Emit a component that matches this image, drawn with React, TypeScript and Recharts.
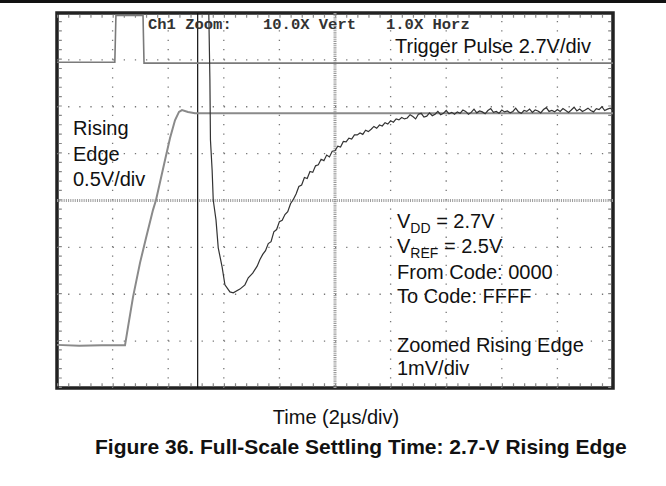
import React from "react";
import { LineChart, Line, XAxis, YAxis, ReferenceLine, ReferenceArea } from "recharts";

// scope screen: 10 divisions across, 8 divisions up
const gridX = [1, 2, 3, 4, 6, 7, 8, 9];
const gridY = [1, 2, 3, 5, 6, 7];
const cursorT = 2.53;

// trigger pulse (2.7V/div)
const triggerT = [0, 1.04, 1.06, 1.547, 1.565, 10];
const triggerV = [6.95, 6.95, 7.95, 7.95, 6.93, 6.93];

// rising edge (0.5V/div)
const risingT = [0, 0.4, 0.8, 1.223, 1.277, 1.367, 1.493, 1.601, 1.727, 1.781, 1.942, 2.032, 2.122, 2.194, 2.248, 2.356, 2.482, 10];
const risingV = [0.92, 0.9, 0.91, 0.91, 1.3, 1.94, 2.67, 3.2, 3.8, 4.01, 4.86, 5.33, 5.71, 5.89, 5.93, 5.89, 5.86, 5.86];

// zoomed rising edge (1mV/div)
const zoomT = [
  2.73, 2.75, 2.76, 2.79, 2.81, 2.86, 2.9, 2.97, 3.02, 3.11, 3.17, 3.29, 3.38, 3.44, 3.52,
  3.6, 3.65, 3.7, 3.75, 3.8, 3.85, 3.9, 3.95, 4.0, 4.05, 4.1, 4.15, 4.2, 4.25, 4.3, 4.35, 4.4, 4.45,
  4.5, 4.55, 4.6, 4.65, 4.7, 4.75, 4.8, 4.85, 4.9, 4.95, 5.0, 5.05, 5.1, 5.15, 5.2, 5.25, 5.3, 5.35,
  5.4, 5.45, 5.5, 5.55, 5.6, 5.65, 5.7, 5.75, 5.8, 5.85, 5.9, 5.95, 6.0, 6.05, 6.1, 6.15, 6.2, 6.25,
  6.3, 6.35, 6.4, 6.45, 6.5, 6.55, 6.6, 6.65, 6.7, 6.75, 6.8, 6.85, 6.9, 6.95, 7.0, 7.05, 7.1, 7.15,
  7.2, 7.25, 7.3, 7.35, 7.4, 7.45, 7.5, 7.55, 7.6, 7.65, 7.7, 7.75, 7.8, 7.85, 7.9, 7.95, 8.0, 8.05,
  8.1, 8.15, 8.2, 8.25, 8.3, 8.35, 8.4, 8.45, 8.5, 8.55, 8.6, 8.65, 8.7, 8.75, 8.8, 8.85, 8.9, 8.95,
  9.0, 9.05, 9.1, 9.15, 9.2, 9.25, 9.3, 9.35, 9.4, 9.45, 9.5, 9.55, 9.6, 9.65, 9.7, 9.75, 9.8, 9.85,
  9.9, 9.95, 10.0,
];
const zoomV = [
  8.0, 6.57, 5.29, 4.65, 4.01, 3.58, 2.99, 2.58, 2.2, 2.05, 2.03, 2.11, 2.2, 2.35, 2.45,
  2.6, 2.74, 2.85, 2.93, 3.08, 3.12, 3.33, 3.38, 3.55, 3.58, 3.7, 3.76, 3.93, 4.02, 4.14, 4.3, 4.33, 4.49,
  4.47, 4.62, 4.6, 4.74, 4.76, 4.88, 4.85, 4.97, 4.93, 5.05, 5.06, 5.16, 5.14, 5.26, 5.25, 5.33, 5.31, 5.4,
  5.4, 5.44, 5.41, 5.5, 5.47, 5.52, 5.58, 5.54, 5.61, 5.59, 5.66, 5.63, 5.7, 5.67, 5.74, 5.72, 5.77, 5.74,
  5.76, 5.83, 5.79, 5.74, 5.84, 5.86, 5.78, 5.8, 5.87, 5.81, 5.84, 5.9, 5.83, 5.86, 5.92, 5.85, 5.88, 5.84,
  5.89, 5.86, 5.93, 5.9, 5.84, 5.88, 5.95, 5.87, 5.91, 5.89, 5.85, 5.92, 5.96, 5.88, 5.9, 5.86, 5.93, 5.89,
  5.91, 5.87, 5.9, 5.97, 5.89, 5.86, 5.92, 5.9, 5.95, 5.88, 5.93, 5.91, 5.87, 5.94, 5.98, 5.9, 5.92, 5.89,
  5.94, 5.9, 5.96, 5.92, 5.88, 5.93, 5.99, 5.91, 5.95, 5.9, 5.93, 5.97, 5.92, 5.89, 5.96, 5.94, 6.0, 5.92,
  5.95, 5.97, 5.93,
];

const toPoints = (t: number[], v: number[]) => t.map((x, i) => ({ t: x, v: v[i] }));

const font = "'Liberation Sans', Arial, Helvetica, sans-serif";
const mono = "'Liberation Mono', 'DejaVu Sans Mono', monospace";

export default function App() {
  const trigger = toPoints(triggerT, triggerV);
  const rising = toPoints(risingT, risingV);
  const zoomed = toPoints(zoomT, zoomV);

  return (
    <div style={{ position: "absolute", left: 0, top: 0, width: 666, height: 486, background: "#fff" }}>
      <LineChart width={666} height={486} margin={{ top: 13, right: 53, bottom: 98, left: 57 }}>
        <XAxis dataKey="t" type="number" domain={[0, 10]} hide />
        <YAxis type="number" domain={[0, 8]} hide />
        {gridX.map((x) => (
          <ReferenceLine key={"gx" + x} x={x} stroke="#777" strokeWidth={1.3} strokeDasharray="1.3 8.08" />
        ))}
        {gridY.map((y) => (
          <ReferenceLine key={"gy" + y} y={y} stroke="#777" strokeWidth={1.3} strokeDasharray="1.3 9.82" />
        ))}
        {/* minor ticks just inside the frame */}
        <ReferenceLine y={7.93} stroke="#888" strokeWidth={3} strokeDasharray="1.2 9.92" />
        <ReferenceLine y={0.07} stroke="#888" strokeWidth={3} strokeDasharray="1.2 9.92" />
        <ReferenceLine x={0.06} stroke="#888" strokeWidth={3} strokeDasharray="1.2 8.18" />
        <ReferenceLine x={9.94} stroke="#888" strokeWidth={3} strokeDasharray="1.2 8.18" />
        <ReferenceLine x={5} stroke="#999" strokeWidth={3} strokeDasharray="1 0.88" />
        <ReferenceLine y={4} stroke="#999" strokeWidth={3} strokeDasharray="1 1.22" />
        <ReferenceLine x={cursorT} stroke="#111" strokeWidth={1.2} />
        <Line data={trigger} dataKey="v" type="linear" stroke="#7a7a7a" strokeWidth={1.6} dot={false} isAnimationActive={false} />
        <Line data={rising} dataKey="v" type="linear" stroke="#8a8a8a" strokeWidth={2} dot={false} isAnimationActive={false} />
        <Line data={zoomed} dataKey="v" type="linear" stroke="#333" strokeWidth={1.2} dot={false} isAnimationActive={false} />
        <ReferenceArea x1={0} x2={10} y1={0} y2={8} fill="none" stroke="#222" strokeWidth={3.5} />
      </LineChart>
      <svg width={666} height={486} style={{ position: "absolute", left: 0, top: 0, pointerEvents: "none" }}>
        <rect x={0} y={0} width={666} height={3} fill="#111" />
        <g fontFamily={mono} fontSize={15.5} fontWeight="bold" fill="#333">
          <text x={148} y={29}>Ch1 Zoom:</text>
          <text x={263} y={29}>10.0X Vert</text>
          <text x={386} y={29}>1.0X Horz</text>
        </g>
        <g fontFamily={font} fontSize={20} fill="#111">
          <text x={395} y={53}>Trigger Pulse 2.7V/div</text>
          <text x={73} y={135}>Rising</text>
          <text x={73} y={161}>Edge</text>
          <text x={73} y={186}>0.5V/div</text>
          <text x={397} y={228}>
            V<tspan fontSize={14} dy={5}>DD</tspan>
            <tspan dy={-5}> = 2.7V</tspan>
          </text>
          <text x={397} y={253}>
            V<tspan fontSize={14} dy={5}>REF</tspan>
            <tspan dy={-5}> = 2.5V</tspan>
          </text>
          <text x={397} y={279}>From Code: 0000</text>
          <text x={397} y={303}>To Code: FFFF</text>
          <text x={397} y={352}>Zoomed Rising Edge</text>
          <text x={397} y={375}>1mV/div</text>
          <text x={336} y={424} textAnchor="middle">Time (2µs/div)</text>
        </g>
        <text x={95} y={454} fontFamily={font} fontSize={21} fontWeight="bold" fill="#111">
          Figure 36. Full-Scale Settling Time: 2.7-V Rising Edge
        </text>
      </svg>
    </div>
  );
}
